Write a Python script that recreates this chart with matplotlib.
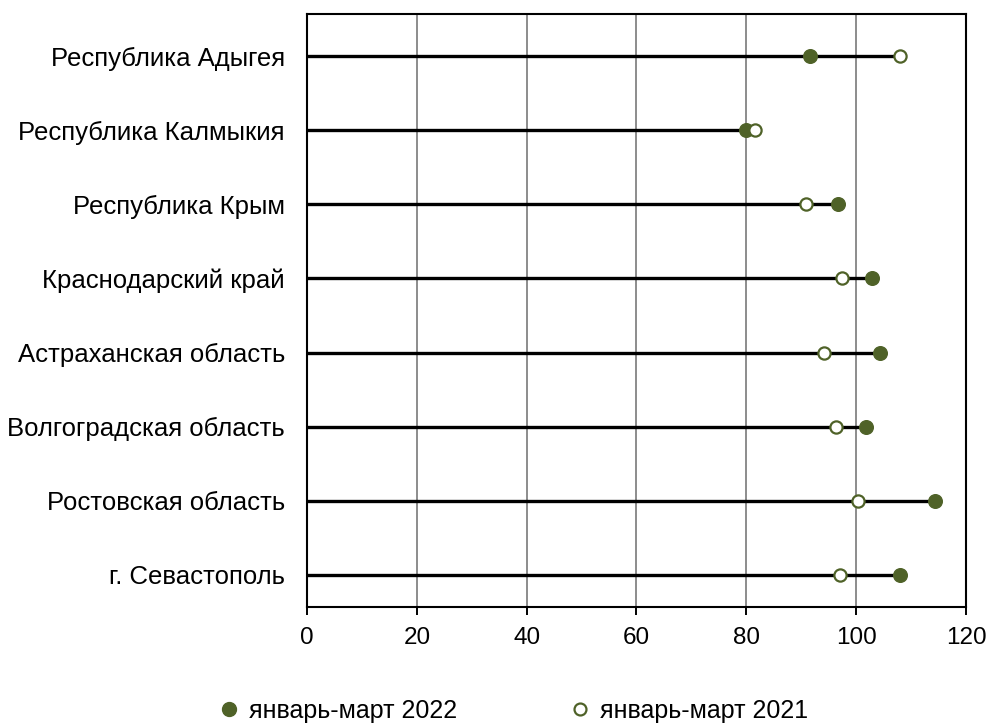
import matplotlib
matplotlib.use("Agg")
import matplotlib.pyplot as plt
from matplotlib.lines import Line2D

plt.rcParams['font.family'] = ['Liberation Sans', 'DejaVu Sans']

regions = ["Республика Адыгея", "Республика Калмыкия", "Республика Крым",
           "Краснодарский край", "Астраханская область", "Волгоградская область",
           "Ростовская область", "г. Севастополь"]
values_2022 = [91.6, 79.9, 96.7, 102.9, 104.4, 101.8, 114.3, 108.0]
values_2021 = [108.0, 81.5, 90.9, 97.5, 94.2, 96.4, 100.4, 97.1]
label_2022 = "январь-март 2022"
label_2021 = "январь-март 2021"
xticks = [0, 20, 40, 60, 80, 100, 120]

green = "#4F6228"
fs = 18

fig = plt.figure(figsize=(9.89, 7.26), dpi=100)
ax = fig.add_axes([0.3104, 0.1639, 0.6663, 0.8168])

ypos = list(range(len(regions)))
ends = [max(a, b) for a, b in zip(values_2022, values_2021)]
ax.hlines(ypos, 0, ends, color="black", linewidth=2.4, zorder=2)
ax.plot(values_2022, ypos, linestyle="none", marker="o", markersize=9.8,
        markerfacecolor=green, markeredgecolor=green, zorder=3)
ax.plot(values_2021, ypos, linestyle="none", marker="o", markersize=8.8,
        markerfacecolor="white", markeredgecolor=green, markeredgewidth=1.6, zorder=4)

ax.set_xlim(0, 120)
ax.set_ylim(len(regions) - 0.567, -0.567)
ax.set_xticks(xticks)
ax.set_xticklabels([str(t) for t in xticks], fontsize=17.5)
ax.set_yticks(ypos)
ax.set_yticklabels(regions, fontsize=18.5)
ax.tick_params(axis='y', length=0, pad=16)
ax.tick_params(axis='x', length=5.5, width=1.4, direction='out', pad=9)
ax.xaxis.grid(True, color="#8c8c8c", linewidth=1.4, zorder=1)
ax.set_axisbelow(True)
for s in ax.spines.values():
    s.set_linewidth(1.5)
    s.set_color("black")

handles = [
    Line2D([], [], linestyle="none", marker="o", markersize=10,
           markerfacecolor=green, markeredgecolor=green),
    Line2D([], [], linestyle="none", marker="o", markersize=8.6,
           markerfacecolor="white", markeredgecolor=green, markeredgewidth=1.6),
]
fig.legend(handles, [label_2022, label_2021], loc="center left",
           bbox_to_anchor=(0.2214, 0.021), borderaxespad=0, borderpad=0,
           ncol=2, frameon=False, fontsize=fs, columnspacing=4.5, handletextpad=0.4,
           handlelength=0.8)

fig.savefig("out.png", dpi=100)
